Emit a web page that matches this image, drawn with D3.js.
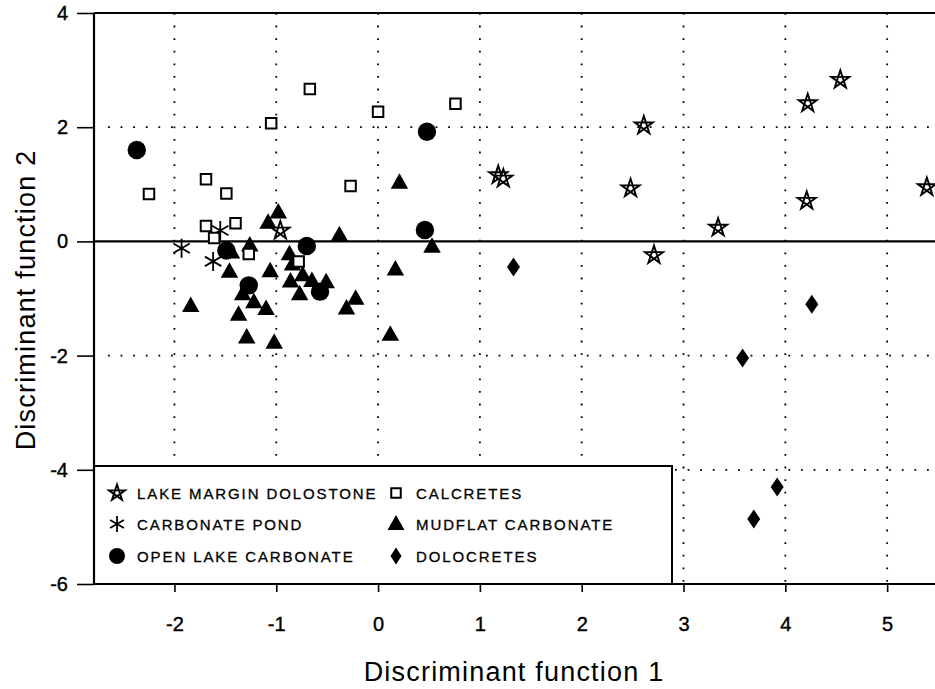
<!DOCTYPE html>
<html><head><meta charset="utf-8">
<script src="https://cdn.jsdelivr.net/npm/d3@7"></script>
<style>
body{margin:0;background:#fff}
svg{display:block}
text{font-family:"Liberation Sans",Arial,Helvetica,sans-serif;fill:#000}
</style>
</head><body>
<svg id="c" width="935" height="689"></svg>
<script>
// ---- data ----
const lakeMarginDolostone = [[4.54,2.83],[4.22,2.42],[2.61,2.03],[1.18,1.16],[1.23,1.10],[2.48,0.93],[4.21,0.71],[5.39,0.95],[3.34,0.24],[2.71,-0.24],[-0.96,0.19]];
const carbonatePond = [[-1.93,-0.12],[-1.62,-0.35],[-1.55,0.19]];
const openLakeCarbonate = [[-2.37,1.60],[0.48,1.92],[0.46,0.20],[-1.49,-0.16],[-1.27,-0.77],[-0.70,-0.08],[-0.57,-0.88]];
const calcretes = [[-2.25,0.83],[-0.67,2.67],[-1.05,2.07],[0.00,2.27],[0.76,2.41],[-1.69,1.09],[-1.49,0.84],[-0.27,0.97],[-1.40,0.32],[-1.69,0.27],[-1.61,0.06],[-1.27,-0.22],[-0.78,-0.35]];
const mudflatCarbonate = [[0.21,1.03],[-0.98,0.51],[-1.08,0.33],[-0.38,0.11],[0.53,-0.09],[0.17,-0.49],[0.12,-1.63],[-1.26,-0.07],[-1.44,-0.19],[-1.46,-0.53],[-1.06,-0.52],[-1.33,-0.92],[-1.22,-1.06],[-1.10,-1.18],[-1.37,-1.28],[-1.29,-1.68],[-1.02,-1.77],[-1.84,-1.13],[-0.87,-0.22],[-0.84,-0.40],[-0.74,-0.59],[-0.86,-0.70],[-0.77,-0.92],[-0.65,-0.69],[-0.51,-0.71],[-0.22,-1.00],[-0.31,-1.17]];
const dolocretes = [[1.33,-0.45],[4.26,-1.10],[3.58,-2.04],[3.92,-4.30],[3.69,-4.86]];

const xTickValues = [-2,-1,0,1,2,3,4,5];
const yTickValues = [-6,-4,-2,0,2,4];
const xGridValues = [-2,-1,0,1,2,3,4,5];
const yGridValues = [2,-2,-4];
const xTitle = "Discriminant function 1";
const yTitle = "Discriminant function 2";
const legendLabels = ["LAKE MARGIN DOLOSTONE","CARBONATE POND","OPEN LAKE CARBONATE","CALCRETES","MUDFLAT CARBONATE","DOLOCRETES"];

// ---- layout ----
const W = 935, H = 689;
const x = d3.scaleLinear().domain([-2.79, 5.47]).range([94, 935]);
const y = d3.scaleLinear().domain([-6, 4]).range([584, 13]);
const svg = d3.select('#c');

// ---- symbol paths ----
function starPath(r){
  const p = d3.range(5).map(k=>{const a=(-90+k*144)*Math.PI/180;return [r*Math.cos(a), r*Math.sin(a)];});
  return 'M'+p.map(q=>q[0].toFixed(2)+','+q[1].toFixed(2)).join('L')+'Z';
}
function asteriskPath(r){
  let s='M0,'+(-r)+'L0,'+r;
  [30,150].forEach(d=>{const a=d*Math.PI/180;const cx=r*Math.cos(a),cy=r*Math.sin(a);s+='M'+(-cx)+','+(-cy)+'L'+cx+','+cy;});
  return s;
}
function trianglePath(w,h){return `M0,${-h*0.6}L${w/2},${h*0.4}L${-w/2},${h*0.4}Z`;}
function diamondPath(w,h){return `M0,${-h/2}L${w/2},0L0,${h/2}L${-w/2},0Z`;}
function squarePath(s){return `M${-s/2},${-s/2}h${s}v${s}h${-s}Z`;}

const styles = {
  star:{d:starPath(9.5), fill:'#fff', stroke:'#000', sw:1.9},
  ast:{d:asteriskPath(9.5), fill:'none', stroke:'#000', sw:1.8},
  circle:{d:d3.symbol(d3.symbolCircle, Math.PI*85)(), fill:'#000', stroke:'none', sw:0},
  square:{d:squarePath(10.5), fill:'#fff', stroke:'#000', sw:2},
  tri:{d:trianglePath(17.5,15.5), fill:'#000', stroke:'none', sw:0},
  dia:{d:diamondPath(13,19), fill:'#000', stroke:'none', sw:0}
};

// ---- grid ----
const grid = svg.append('g').attr('stroke','#000').attr('stroke-width',1.8).attr('stroke-dasharray','1.8,10.8');
xGridValues.forEach(v=>grid.append('line').attr('x1',x(v)).attr('x2',x(v)).attr('y1',y(4)).attr('y2',y(-6)));
yGridValues.forEach(v=>grid.append('line').attr('x1',x.range()[0]+14).attr('x2',W).attr('y1',y(v)).attr('y2',y(v)));
svg.append('line').attr('x1',x.range()[0]).attr('x2',W).attr('y1',y(0)).attr('y2',y(0)).attr('stroke','#000').attr('stroke-width',2.2);

// ---- legend box ----
const lg = svg.append('g');
lg.append('rect').attr('x',x.range()[0]).attr('y',466).attr('width',578).attr('height',y(-6)-466)
  .attr('fill','#fff').attr('stroke','#000').attr('stroke-width',2);
const legendSym = [['star',117,493],['ast',117,524],['circle',117,556],['square',396,493],['tri',396,524],['dia',396,556]];
const legendSt = {
  star:starPath(8.5), ast:asteriskPath(8), circle:d3.symbol(d3.symbolCircle, Math.PI*64)(),
  square:squarePath(9.5), tri:trianglePath(17,15), dia:diamondPath(11,17)
};
legendSym.forEach((s,i)=>{
  const st = styles[s[0]];
  lg.append('path').attr('d',legendSt[s[0]]).attr('transform',`translate(${s[1]},${s[2]})`)
    .attr('fill',st.fill).attr('stroke',st.stroke).attr('stroke-width',st.sw);
  lg.append('text').attr('x',s[1]+20).attr('y',s[2]+5.5).attr('font-size',15).attr('letter-spacing',1.9)
    .attr('stroke','#000').attr('stroke-width',0.3)
    .text(legendLabels[i]);
});

// ---- axes ----
const xMinor = d3.range(-13, 28).filter(i=>i%5!==0).map(i=>i/5);
const yMinor = d3.range(-12, 9).filter(i=>i%4!==0).map(i=>i/2);
const gx = svg.append('g').attr('transform',`translate(0,${y(-6)})`);
gx.call(d3.axisBottom(x).tickValues(xMinor).tickSize(4).tickFormat(''));
gx.call(d3.axisBottom(x).tickValues(xTickValues).tickSize(8).tickPadding(25).tickFormat(d=>String(d)));
gx.selectAll('.domain').remove();
gx.selectAll('line').attr('stroke-width',1.6);
gx.selectAll('text').attr('font-size',20).attr('font-family','"Liberation Sans",Arial,sans-serif').attr('stroke','#000').attr('stroke-width',0.4);

const gy = svg.append('g').attr('transform',`translate(${x.range()[0]},0)`);
gy.call(d3.axisLeft(y).tickValues(yMinor).tickSize(8).tickFormat(''));
gy.call(d3.axisLeft(y).tickValues(yTickValues).tickSize(17).tickPadding(9).tickFormat(d=>String(d)));
gy.selectAll('.domain').remove();
gy.selectAll('line').attr('stroke-width',1.6);
gy.selectAll('text').attr('font-size',20).attr('font-family','"Liberation Sans",Arial,sans-serif').attr('stroke','#000').attr('stroke-width',0.4);

// frame lines
const fr = svg.append('g').attr('stroke','#000').attr('stroke-width',2.2);
fr.append('line').attr('x1',x.range()[0]).attr('x2',x.range()[0]).attr('y1',y(4)).attr('y2',y(-6));
fr.append('line').attr('x1',x.range()[0]).attr('x2',W).attr('y1',y(-6)).attr('y2',y(-6));
fr.append('line').attr('x1',x.range()[0]).attr('x2',W).attr('y1',y(4)).attr('y2',y(4));

// ---- points ----
function plot(data, key){
  const st = styles[key];
  svg.append('g').selectAll('path').data(data).join('path')
    .attr('d',st.d).attr('transform',d=>`translate(${x(d[0])},${y(d[1])})`)
    .attr('fill',st.fill).attr('stroke',st.stroke).attr('stroke-width',st.sw);
}
plot(mudflatCarbonate,'tri');
plot(openLakeCarbonate,'circle');
plot(dolocretes,'dia');
plot(carbonatePond,'ast');
plot(lakeMarginDolostone,'star');
plot(calcretes,'square');

// ---- titles ----
svg.append('text').attr('x',514).attr('y',681).attr('text-anchor','middle').attr('font-size',27).attr('letter-spacing',1.2).text(xTitle);
svg.append('text').attr('transform','translate(35,300) rotate(-90)').attr('text-anchor','middle').attr('font-size',27).attr('letter-spacing',1.2).text(yTitle);
</script>
</body></html>
